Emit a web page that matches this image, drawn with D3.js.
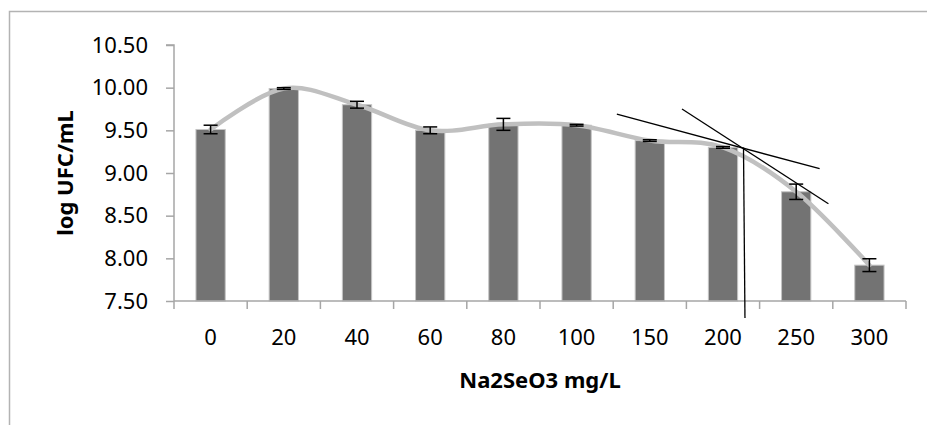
<!DOCTYPE html>
<html>
<head>
<meta charset="utf-8">
<script src="https://cdn.jsdelivr.net/npm/d3@7"></script>
<style>
  html, body { margin: 0; padding: 0; background: #fff; }
  svg { display: block; }
</style>
</head>
<body>
<svg id="chart" width="927" height="425"></svg>
<script>
// ---- data ----
const categories = ["0", "20", "40", "60", "80", "100", "150", "200", "250", "300"];
const values = [9.51, 9.99, 9.80, 9.50, 9.57, 9.56, 9.38, 9.30, 8.78, 7.92];
const errors = [0.05, 0.01, 0.04, 0.04, 0.07, 0.01, 0.01, 0.01, 0.09, 0.075];
const yTicks = [7.5, 8.0, 8.5, 9.0, 9.5, 10.0, 10.5];
// annotation lines in data space: [fractional category index, value]
const tangentA = [[5.55, 9.69], [8.32, 9.05]];
const tangentB = [[6.44, 9.75], [8.44, 8.64]];
const verticalLine = [[7.28, 9.30], [7.30, 7.30]];
const xTitle = "Na2SeO3 mg/L";
const yTitle = "log UFC/mL";

// ---- layout ----
const svg = d3.select("#chart");
const pLeft = 174, pRight = 906, pTop = 45, pBottom = 301;
const axisColor = "#a6a6a6";

const x = d3.scaleBand().domain(categories).range([pLeft, pRight])
  .paddingInner(0.6).paddingOuter(0.3);
const step = x.step();
const bw = x.bandwidth();
const xi = d3.scaleLinear().domain([0, 1])
  .range([x(categories[0]) + bw / 2, x(categories[0]) + bw / 2 + step]);
const y = d3.scaleLinear().domain([7.5, 10.5]).range([pBottom, pTop]);

// frame (top and left border)
svg.append("path").attr("d", "M9.5,425 V11.5 H927")
  .attr("fill", "none").attr("stroke", "#b3b3b3").attr("stroke-width", 1.5);

// bars
svg.append("g").selectAll("rect").data(values).join("rect")
  .attr("x", (d, i) => x(categories[i]))
  .attr("y", d => y(d))
  .attr("width", bw)
  .attr("height", d => y(7.5) - y(d))
  .attr("fill", "#737373")
  .attr("stroke", "#c4c4c4")
  .attr("stroke-width", 1);

// y axis
const yAxis = d3.axisLeft(y).tickValues(yTicks).tickFormat(d3.format(".2f"))
  .tickSize(8).tickPadding(18);
const gy = svg.append("g").attr("transform", `translate(${pLeft},0)`).call(yAxis);
gy.select(".domain").attr("stroke", axisColor).attr("stroke-width", 1.5)
  .attr("d", `M-8,${pTop}H0V${pBottom}`);
gy.selectAll(".tick line").attr("stroke", axisColor).attr("stroke-width", 1.5);
gy.selectAll(".tick text").attr("fill", "#000")
  .style("font-family", "'Noto Sans', sans-serif").style("font-size", "22px");

// x axis (ticks at category boundaries)
const gx = svg.append("g").attr("transform", `translate(0,${pBottom})`);
gx.append("line").attr("x1", pLeft).attr("x2", pRight).attr("y1", 0).attr("y2", 0)
  .attr("stroke", axisColor).attr("stroke-width", 1.5);
const bounds = d3.range(categories.length + 1).map(i => xi(i - 0.5));
gx.selectAll("line.tk").data(bounds).join("line").attr("class", "tk")
  .attr("x1", d => d).attr("x2", d => d).attr("y1", 0).attr("y2", 8)
  .attr("stroke", axisColor).attr("stroke-width", 1.5);
gx.selectAll("text").data(categories).join("text")
  .attr("x", d => x(d) + bw / 2).attr("y", 44)
  .attr("text-anchor", "middle").attr("fill", "#000")
  .style("font-family", "'Noto Sans', sans-serif").style("font-size", "22px")
  .text(d => d);

// smoothed line
const line = d3.line()
  .x((d, i) => x(categories[i]) + bw / 2)
  .y(d => y(d))
  .curve(d3.curveCardinal.tension(0));
svg.append("path").datum(values).attr("d", line)
  .attr("fill", "none").attr("stroke", "#c0c0c0").attr("stroke-width", 4.5)
  .attr("stroke-linecap", "round");

// error bars
const eg = svg.append("g").attr("stroke", "#000").attr("stroke-width", 1.5);
values.forEach((v, i) => {
  const cx = x(categories[i]) + bw / 2;
  const e = errors[i];
  eg.append("line").attr("x1", cx).attr("x2", cx).attr("y1", y(v + e)).attr("y2", y(v - e));
  eg.append("line").attr("x1", cx - 7).attr("x2", cx + 7).attr("y1", y(v + e)).attr("y2", y(v + e));
  eg.append("line").attr("x1", cx - 7).attr("x2", cx + 7).attr("y1", y(v - e)).attr("y2", y(v - e));
});

// tangent annotation lines
const aline = d3.line().x(d => xi(d[0])).y(d => y(d[1]));
[tangentA, tangentB, verticalLine].forEach(pts => {
  svg.append("path").attr("d", aline(pts)).attr("fill", "none")
    .attr("stroke", "#000").attr("stroke-width", 1.3);
});

// titles
svg.append("text").attr("x", (pLeft + pRight) / 2).attr("y", 388)
  .attr("text-anchor", "middle").attr("fill", "#000")
  .style("font-family", "'Noto Sans', sans-serif").style("font-size", "22px")
  .style("font-weight", "bold").text(xTitle);
svg.append("text")
  .attr("transform", `translate(73,${(pTop + pBottom) / 2}) rotate(-90)`)
  .attr("text-anchor", "middle").attr("fill", "#000")
  .style("font-family", "'Noto Sans', sans-serif").style("font-size", "22px")
  .style("font-weight", "bold").text(yTitle);
</script>
</body>
</html>
